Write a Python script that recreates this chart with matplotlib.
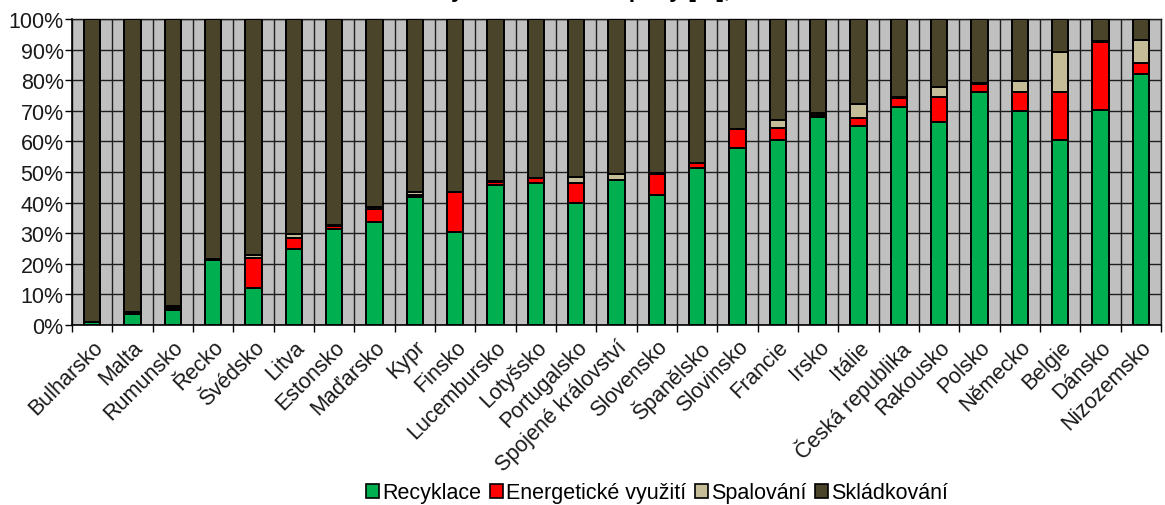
import matplotlib
matplotlib.use("Agg")
import matplotlib.pyplot as plt
from matplotlib.patches import Patch
import numpy as np

plt.rcParams['font.family'] = ['Liberation Sans', 'DejaVu Sans']

countries = ["Bulharsko", "Malta", "Rumunsko", "Řecko", "Švédsko", "Litva", "Estonsko",
             "Maďarsko", "Kypr", "Finsko", "Lucembursko", "Lotyšsko", "Portugalsko",
             "Spojené království", "Slovensko", "Španělsko", "Slovinsko", "Francie", "Irsko",
             "Itálie", "Česká republika", "Rakousko", "Polsko", "Německo", "Belgie",
             "Dánsko", "Nizozemsko"]

recyklace = [1.0, 3.6, 5.0, 21.4, 12.2, 25.0, 31.3, 33.6, 41.8, 30.5, 45.7, 46.4, 39.8,
             47.3, 42.6, 51.2, 58.0, 60.5, 68.1, 65.1, 71.3, 66.4, 76.1, 69.8, 60.5, 70.2, 82.0]
energeticke = [0.0, 0.5, 0.7, 0.3, 9.8, 3.3, 1.2, 4.3, 0.8, 13.0, 0.9, 1.5, 6.6,
               0.0, 6.6, 1.6, 6.0, 3.8, 0.6, 2.5, 2.9, 8.2, 2.5, 6.2, 15.6, 22.4, 3.5]
spalovani = [0.0, 0.3, 0.4, 0.0, 0.8, 1.3, 0.3, 0.7, 0.8, 0.0, 0.6, 0.3, 2.0,
             2.2, 0.6, 0.3, 0.2, 2.7, 0.6, 4.6, 0.3, 3.2, 0.5, 3.7, 13.2, 0.2, 7.7]
skladkovani = [99.0, 95.6, 93.9, 78.3, 77.2, 70.4, 67.2, 61.4, 56.6, 56.5, 52.8, 51.8, 51.6,
               50.5, 50.2, 46.9, 35.8, 33.0, 30.7, 27.8, 25.5, 22.2, 20.9, 20.3, 10.7, 7.2, 6.8]

series_names = ["Recyklace", "Energetické využití", "Spalování", "Skládkování"]
series_colors = ["#00B050", "#FF0000", "#C4BD97", "#4A442A"]
y_ticks = list(range(0, 101, 10))
title_text = "Metody nakládání s odpady [%], 2008"

W, H = 1165, 506
fig = plt.figure(figsize=(W / 100, H / 100), dpi=100)
ax = fig.add_axes([72 / W, 1 - 326 / H, (1161 - 72) / W, (326 - 20) / H])

x = np.arange(len(countries))
bottom = np.zeros(len(countries))
for vals, col in zip([recyklace, energeticke, spalovani, skladkovani], series_colors):
    v = np.array(vals)
    ax.bar(x, v, width=0.4, bottom=bottom, color=col, edgecolor='black',
           linewidth=1.4, zorder=3)
    bottom += v

ax.set_xlim(-0.5, len(countries) - 0.5)
ax.set_ylim(0, 100)
ax.set_facecolor('#C0C0C0')

ax.set_yticks(y_ticks)
ax.set_yticklabels([f"{t}%" for t in y_ticks], fontsize=15.5, color='#1a1a1a')
ax.tick_params(axis='y', length=5, width=1, pad=1)

ax.set_xticks(x)
ax.set_xticklabels(countries, rotation=45, ha='right', va='top',
                   rotation_mode='anchor', fontsize=15.5, color='#1a1a1a')
ax.set_xticks(np.arange(-0.5, len(countries), 1), minor=True)
ax.tick_params(axis='x', which='major', length=0, pad=8)
ax.tick_params(axis='x', which='minor', length=5, width=1)

ax.grid(which='major', axis='y', color='#1e1e1e', linewidth=1.0, zorder=1)
ax.grid(which='minor', axis='x', color='#1e1e1e', linewidth=1.0, zorder=1)
ax.set_axisbelow(True)

for s in ['top', 'right']:
    ax.spines[s].set_color('#1e1e1e')
    ax.spines[s].set_linewidth(1.0)
for s in ['left', 'bottom']:
    ax.spines[s].set_color('black')
    ax.spines[s].set_linewidth(1.2)

fig.text(0.503, 1.0 + 3 / H, title_text, ha='center', va='baseline', fontsize=16.5,
         fontweight='bold')

handles = [Patch(facecolor=c, edgecolor='black', linewidth=1.2) for c in series_colors]
fig.legend(handles, series_names, loc='center', bbox_to_anchor=(657 / W, 1 - 494 / H),
           ncol=4, frameon=False, fontsize=15.5, handlelength=0.6, handleheight=0.6,
           handletextpad=0.15, columnspacing=0.4, borderaxespad=0)

fig.savefig("out.png", dpi=100)
